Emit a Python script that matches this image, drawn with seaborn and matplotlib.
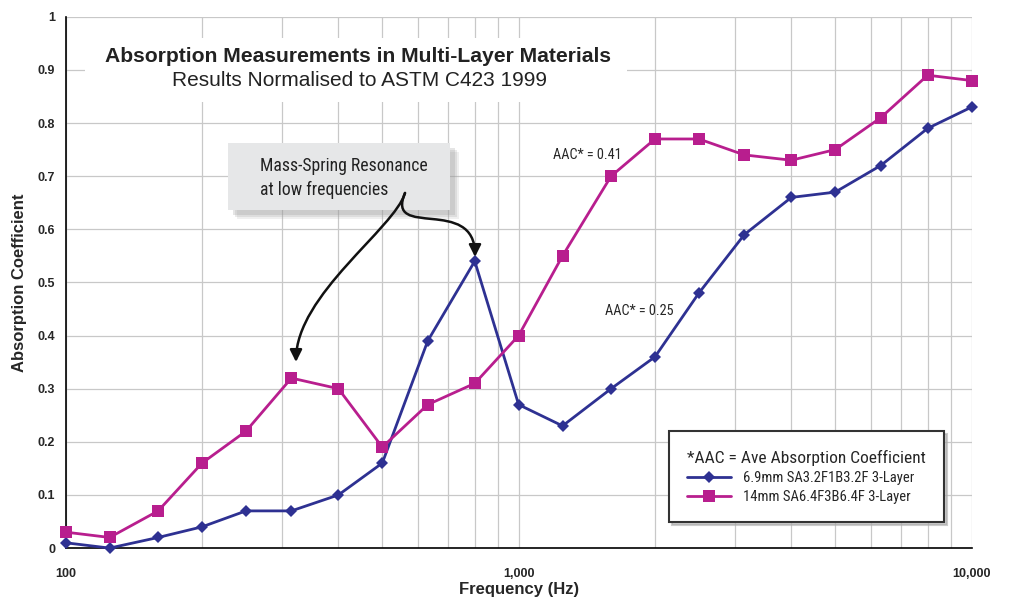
import matplotlib
matplotlib.use('Agg')
import matplotlib.pyplot as plt
import matplotlib.ticker as mticker
from matplotlib.patches import FancyBboxPatch, FancyArrowPatch
from matplotlib.path import Path
import seaborn as sns
import pandas as pd

freqs = [100, 125, 160, 200, 250, 315, 400, 500, 630, 800, 1000,
         1250, 1600, 2000, 2500, 3150, 4000, 5000, 6300, 8000, 10000]
thin_layer = [0.01, 0.00, 0.02, 0.04, 0.07, 0.07, 0.10, 0.16, 0.39, 0.54, 0.27,
              0.23, 0.30, 0.36, 0.48, 0.59, 0.66, 0.67, 0.72, 0.79, 0.83]
thick_layer = [0.03, 0.02, 0.07, 0.16, 0.22, 0.32, 0.30, 0.19, 0.27, 0.31, 0.40,
               0.55, 0.70, 0.77, 0.77, 0.74, 0.73, 0.75, 0.81, 0.89, 0.88]
labels = ['6.9mm SA3.2F1B3.2F 3-Layer', '14mm SA6.4F3B6.4F 3-Layer']

sns.set_style('white')
plt.rcParams['font.family'] = ['Liberation Sans', 'DejaVu Sans']
narrow = ['Liberation Sans Narrow', 'Roboto Condensed', 'DejaVu Sans']

blue = '#2e3192'
magenta = '#b81e8e'
W, H = 1011, 599

df = pd.DataFrame({'Frequency': freqs * 2,
                   'Absorption': thin_layer + thick_layer,
                   'Material': [labels[0]] * len(freqs) + [labels[1]] * len(freqs)})

fig = plt.figure(figsize=(10.11, 5.99), dpi=100)
ax = fig.add_axes([0.065, 0.085, 0.896, 0.887])

sns.lineplot(data=df, x='Frequency', y='Absorption', hue='Material', style='Material',
             markers={labels[0]: 'D', labels[1]: 's'}, dashes=False,
             palette={labels[0]: blue, labels[1]: magenta},
             markersize=7, linewidth=2, markeredgewidth=0, ax=ax, legend=False)
for line, ms in zip(ax.lines, [6, 8]):
    line.set_markersize(ms)
    line.set_clip_on(False)
    line.set_zorder(6)

ax.set_xscale('log')
ax.set_xlim(100, 10000)
ax.set_ylim(0, 1)
ax.xaxis.set_major_locator(mticker.FixedLocator([100, 1000, 10000]))
ax.xaxis.set_major_formatter(mticker.FuncFormatter(lambda v, p: f'{int(v):,}'))
ax.xaxis.set_minor_locator(mticker.LogLocator(subs=range(2, 10)))
ax.xaxis.set_minor_formatter(mticker.NullFormatter())
ax.yaxis.set_major_locator(mticker.MultipleLocator(0.1))
ax.yaxis.set_major_formatter(mticker.FuncFormatter(lambda v, p: f'{v:g}'))
ax.grid(True, which='both', color='#c8c8c8', linewidth=0.9)
ax.set_axisbelow(True)
for side in ['top', 'right']:
    ax.spines[side].set_visible(False)
for side in ['left', 'bottom']:
    ax.spines[side].set_color('black')
    ax.spines[side].set_linewidth(1.2)
ax.tick_params(axis='both', which='major', length=4, color='black', labelsize=9)
ax.tick_params(axis='x', pad=10)
for t in ax.get_xticklabels() + ax.get_yticklabels():
    t.set_fontweight('bold')
ax.set_xlabel('Frequency (Hz)', fontsize=12, fontweight='bold', labelpad=2)
ax.set_ylabel('Absorption Coefficient', fontsize=12, fontweight='bold', labelpad=8)


def fig_xy(px, py):
    return px / W, 1 - py / H


# title box
title_box = FancyBboxPatch(fig_xy(85, 102), 542 / W, 64 / H,
                           boxstyle='square,pad=0', transform=fig.transFigure,
                           facecolor='white', edgecolor='none', zorder=3)
fig.patches.append(title_box)
fig.text(*fig_xy(358, 57), 'Absorption Measurements in Multi-Layer Materials',
         ha='center', va='center', fontsize=15.2, fontweight='bold', color='#222222', zorder=4)
fig.text(*fig_xy(360, 80), 'Results Normalised to ASTM C423 1999',
         ha='center', va='center', fontsize=15, color='#222222', zorder=4)

# annotation box with soft shadow
for off, a in [(9, 0.15), (7, 0.2), (5, 0.25)]:
    sh = FancyBboxPatch(fig_xy(228 + off, 210 + off), 222 / W, 67 / H,
                        boxstyle='square,pad=0', transform=fig.transFigure,
                        facecolor='#999999', edgecolor='none', alpha=a, zorder=3)
    fig.patches.append(sh)
note_box = FancyBboxPatch(fig_xy(228, 210), 222 / W, 67 / H,
                          boxstyle='square,pad=0', transform=fig.transFigure,
                          facecolor='#e6e7e8', edgecolor='none', zorder=3)
fig.patches.append(note_box)
fig.text(*fig_xy(260, 166), 'Mass-Spring Resonance', ha='left', va='center',
         fontsize=12.7, family=narrow, color='#222222', zorder=4)
fig.text(*fig_xy(260, 190), 'at low frequencies', ha='left', va='center',
         fontsize=12.7, family=narrow, color='#222222', zorder=4)

# curved arrows (pixel paths, y flipped)
arrow_paths = [
    [(405, 193), (395, 228), (296, 295), (296, 362)],
    [(405, 193), (385, 240), (475, 195), (475, 257)],
]
for pts in arrow_paths:
    verts = [fig_xy(px, py) for px, py in pts]
    path = Path(verts, [Path.MOVETO, Path.CURVE4, Path.CURVE4, Path.CURVE4])
    arr = FancyArrowPatch(path=path, arrowstyle='-|>', color='#111111', lw=1.8,
                          mutation_scale=18, transform=fig.transFigure, zorder=5)
    fig.patches.append(arr)

ax.text(1190, 0.74, 'AAC* = 0.41', fontsize=10.3, family=narrow, ha='left', va='center')
ax.text(1550, 0.446, 'AAC* = 0.25', fontsize=10.3, family=narrow, ha='left', va='center')

# legend
handles = [plt.Line2D([], [], color=blue, marker='D', markersize=6, lw=2, markeredgewidth=0),
           plt.Line2D([], [], color=magenta, marker='s', markersize=8, lw=2, markeredgewidth=0)]
leg = ax.legend(handles, labels, title='*AAC = Ave Absorption Coefficient',
                loc='lower right', bbox_to_anchor=(0.97, 0.049), borderaxespad=0,
                frameon=True, fancybox=False,
                shadow={'color': '#aaaaaa', 'alpha': 0.6}, edgecolor='#333333',
                prop={'family': narrow, 'size': 10.5},
                title_fontproperties={'family': narrow, 'size': 12.5},
                handlelength=3, borderpad=1.25, labelspacing=0.35)
leg._legend_box.align = 'left'
leg.get_frame().set_linewidth(1.5)
leg.set_zorder(7)

fig.savefig('out.png', dpi=100)
